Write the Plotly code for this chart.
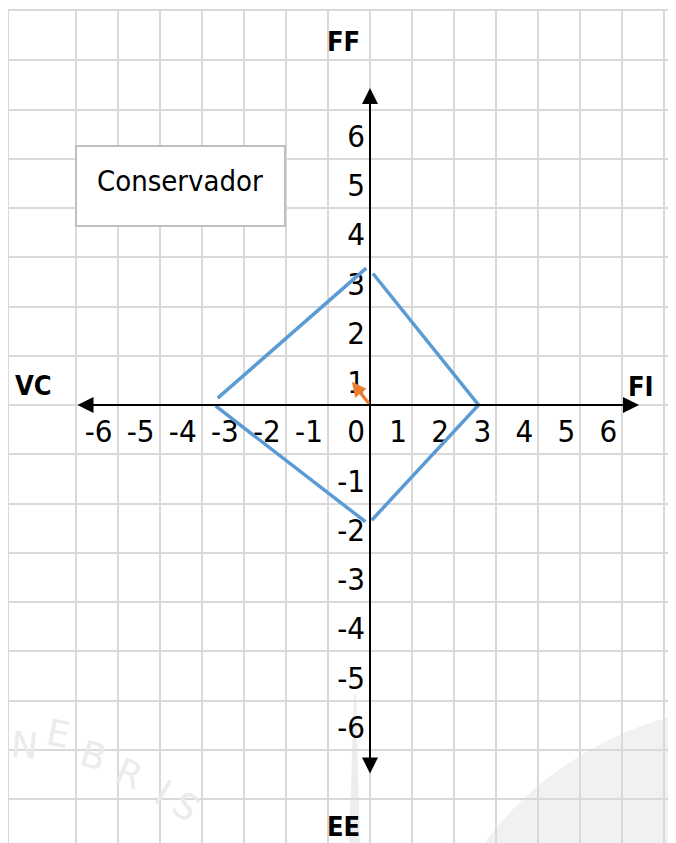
import plotly.graph_objects as go

# ---------------- data ----------------
x_tick_values = [-6, -5, -4, -3, -2, -1, 0, 1, 2, 3, 4, 5, 6]
y_tick_values = [6, 5, 4, 3, 2, 1, -1, -2, -3, -4, -5, -6]
axis_names = ["FF", "FI", "EE", "VC"]
box_label = "Conservador"

# profile polygon (drawn as separate strokes, as in the original)
profile_right_x = [0.07, 2.58, 0.04]
profile_right_y = [2.67, 0.0, -2.34]
profile_upleft_x = [-0.09, -3.62]
profile_upleft_y = [2.78, 0.14]
profile_lowleft_x = [-3.67, -0.11]
profile_lowleft_y = [-0.02, -2.37]

# resultant vector (orange arrow), from origin
resultant_x = -0.43
resultant_y = 0.47

watermark_letters = ["N", "E", "B", "R", "I", "S"]

# ---------------- style ----------------
FONT = "Noto Sans Condensed, DejaVu Sans Condensed, sans-serif"
GRID = "#d9d9d9"
BLUE = "#5B9BD5"
ORANGE = "#ED7D31"
PAGE = 8                       # browser body margin
W, H = 676 - PAGE, 843 - PAGE
ML, MT = 9, 11                 # plot area corner in page pixels
SX, SY = 42.07, 49.25          # pixels per unit
OX, OY = 370, 405              # page-pixel position of origin
LBL_DX, LBL_DY = -0.12, -0.6   # cell-label offsets (units)


def gx(px):
    return (px - OX) / SX


def gy(py):
    return (OY - py) / SY


fig = go.Figure()

# tick labels (right-aligned cell style)
lbl_font = dict(family=FONT, size=31, color="black")
fig.add_trace(go.Scatter(
    x=[v + LBL_DX for v in x_tick_values], y=[LBL_DY] * len(x_tick_values), mode="text",
    text=[str(v) for v in x_tick_values], textposition="middle left",
    textfont=lbl_font, hoverinfo="skip", showlegend=False, cliponaxis=False))
fig.add_trace(go.Scatter(
    x=[LBL_DX] * len(y_tick_values), y=[v + LBL_DY for v in y_tick_values], mode="text",
    text=[str(v) for v in y_tick_values], textposition="middle left",
    textfont=lbl_font, hoverinfo="skip", showlegend=False, cliponaxis=False))

# profile strokes
for xs, ys in [(profile_right_x, profile_right_y),
               (profile_upleft_x, profile_upleft_y),
               (profile_lowleft_x, profile_lowleft_y)]:
    fig.add_trace(go.Scatter(x=xs, y=ys, mode="lines",
                             line=dict(color=BLUE, width=3.5),
                             hoverinfo="skip", showlegend=False))

annotations = []
# axis arrows
annotations.append(dict(x=gx(639), y=0, ax=gx(76), ay=0, xref="x", yref="y",
                        axref="x", ayref="y", text="", showarrow=True,
                        arrowside="end+start", arrowhead=2, startarrowhead=2,
                        arrowsize=1.6, startarrowsize=1.6, arrowwidth=2,
                        arrowcolor="black"))
annotations.append(dict(x=0, y=gy(88), ax=0, ay=gy(775), xref="x", yref="y",
                        axref="x", ayref="y", text="", showarrow=True,
                        arrowside="end+start", arrowhead=2, startarrowhead=2,
                        arrowsize=1.6, startarrowsize=1.6, arrowwidth=2,
                        arrowcolor="black"))
# resultant vector
annotations.append(dict(x=resultant_x, y=resultant_y, ax=0, ay=0, xref="x", yref="y",
                        axref="x", ayref="y", text="", showarrow=True,
                        arrowhead=2, arrowsize=0.9, arrowwidth=3.2,
                        arrowcolor=ORANGE))

# axis names
bold = dict(family=FONT, size=27, color="black")
annotations += [
    dict(x=gx(362), y=gy(41), text="<b>%s</b>" % axis_names[0], xanchor="right", yanchor="middle",
         xref="x", yref="y", showarrow=False, font=bold),
    dict(x=gx(626), y=gy(386), text="<b>%s</b>" % axis_names[1], xanchor="left", yanchor="middle",
         xref="x", yref="y", showarrow=False, font=bold),
    dict(x=gx(362), y=gy(826), text="<b>%s</b>" % axis_names[2], xanchor="right", yanchor="middle",
         xref="x", yref="y", showarrow=False, font=bold),
    dict(x=gx(13), y=gy(385), text="<b>%s</b>" % axis_names[3], xanchor="left", yanchor="middle",
         xref="x", yref="y", showarrow=False, font=bold),
]

# text box label
annotations.append(dict(x=gx(95), y=gy(181), text=box_label, xanchor="left", yanchor="middle",
                        xref="x", yref="y", showarrow=False,
                        font=dict(family=FONT, size=29, color="black")))

# faint watermark letters along an arc
wm_pos = [(24, 745, 5), (58, 733, 11), (93, 755, 17), (129, 773, 24), (163, 792, 31), (186, 806, 35)]
for ch, (px, py, ang) in zip(watermark_letters, wm_pos):
    annotations.append(dict(x=gx(px), y=gy(py), text=ch, textangle=ang,
                            xref="x", yref="y", showarrow=False,
                            font=dict(family="DejaVu Sans, sans-serif", size=36, color="#ebebeb")))

shapes = [
    # watermark seal (bottom right)
    dict(type="circle", xref="x", yref="y", layer="below",
         x0=gx(760 - 345), x1=gx(760 + 345), y0=gy(1050 + 345), y1=gy(1050 - 345),
         fillcolor="#f1f1f1", line=dict(width=0)),
    # watermark torch band
    dict(type="path", xref="x", yref="y", layer="below",
         path="M %f,%f L %f,%f L %f,%f L %f,%f Z" % (gx(349), gy(845), gx(354), gy(695),
                                                     gx(356), gy(695), gx(360), gy(845)),
         fillcolor="#ededf0", line=dict(width=0)),
    # text box
    dict(type="rect", xref="x", yref="y", x0=gx(76), x1=gx(285), y0=gy(146), y1=gy(226),
         fillcolor="white", line=dict(color="#bfbfbf", width=2), layer="between"),
]

x_lo, x_hi = gx(ML), gx(PAGE + W)
y_hi, y_lo = gy(MT), gy(PAGE + H)

fig.update_layout(
    width=W, height=H,
    margin=dict(l=ML - PAGE, r=0, t=MT - PAGE, b=0, pad=0),
    paper_bgcolor="white", plot_bgcolor="white",
    showlegend=False,
    annotations=annotations, shapes=shapes,
    xaxis=dict(range=[x_lo, x_hi], tickmode="array", tickvals=list(range(-7, 8)),
               showticklabels=False, ticks="", showgrid=True, gridcolor=GRID, gridwidth=2,
               zeroline=False, showline=True, linecolor=GRID, linewidth=2, side="top",
               fixedrange=True),
    yaxis=dict(range=[y_lo, y_hi], tickmode="array", tickvals=list(range(-8, 8)),
               showticklabels=False, ticks="", showgrid=True, gridcolor=GRID, gridwidth=2,
               zeroline=False, showline=True, linecolor=GRID, linewidth=2,
               fixedrange=True),
)

fig.write_html("out.html")
